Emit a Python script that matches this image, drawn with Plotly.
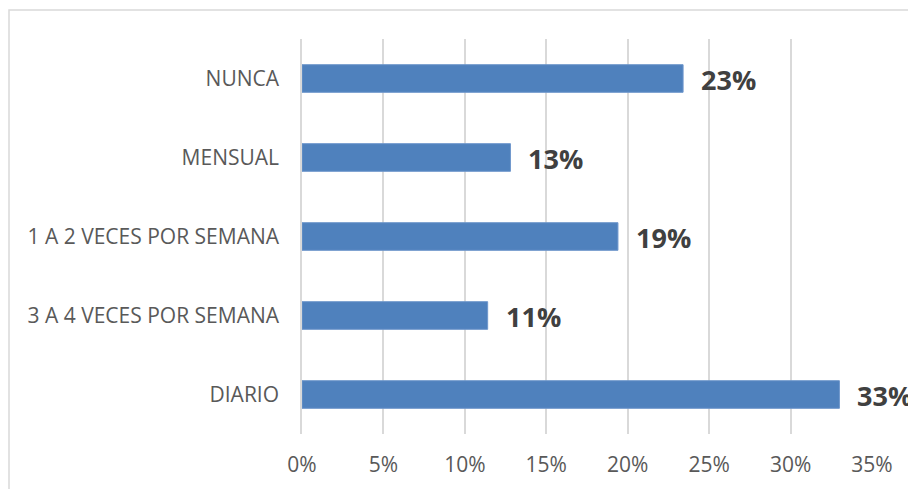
import plotly.graph_objects as go

# Frecuencia de consumo (proporciones)
categorias = ["DIARIO", "3 A 4 VECES POR SEMANA", "1 A 2 VECES POR SEMANA", "MENSUAL", "NUNCA"]
valores = [0.330, 0.114, 0.194, 0.128, 0.234]
ticks_x = [0, 0.05, 0.10, 0.15, 0.20, 0.25, 0.30, 0.35]
ticks_x_texto = ["0%", "5%", "10%", "15%", "20%", "25%", "30%", "35%"]

W, H = 908, 489
ML, MR, MT, MB = 302, 36, 39, 55
PW, PH = W - ML - MR, H - MT - MB
FUENTE = "Open Sans"

fig = go.Figure(
    go.Bar(
        x=valores,
        y=categorias,
        orientation="h",
        width=0.35,
        marker=dict(color="#4f81bd", line=dict(color="#6f97cc", width=1)),
        hoverinfo="skip",
    )
)

# Etiquetas de valor en negrita a la derecha de cada barra
for cat, v in zip(categorias, valores):
    fig.add_annotation(
        x=v, y=cat, xref="x", yref="y",
        text=f"<b>{v:.0%}</b>",
        showarrow=False, xanchor="left", yanchor="middle",
        xshift=16, yshift=-1,
        font=dict(family=FUENTE, size=27, color="#404040"),
    )

# Marco del gráfico
fig.add_shape(
    type="rect", xref="paper", yref="paper",
    x0=(9 - ML) / PW, x1=(W + 5 - ML) / PW,
    y0=-(H + 5 - MT - PH) / PH, y1=1 + (MT - 10) / PH,
    line=dict(color="#d9d9d9", width=1.5), fillcolor="rgba(0,0,0,0)",
    layer="below",
)

fig.update_layout(
    width=W, height=H,
    margin=dict(l=ML, r=MR, t=MT, b=MB),
    paper_bgcolor="white", plot_bgcolor="white",
    showlegend=False,
    font=dict(family=FUENTE, color="#595959"),
    xaxis=dict(
        range=[0, 0.35], tickvals=ticks_x, ticktext=ticks_x_texto,
        showgrid=True, gridcolor="#d9d9d9", gridwidth=1.5,
        zeroline=False, showline=False, ticks="",
        tickfont=dict(size=21, color="#595959"),
        ticklabelstandoff=16,
    ),
    yaxis=dict(
        range=[-0.5, 4.5], categoryorder="array", categoryarray=categorias,
        showgrid=False, zeroline=False, showline=True,
        linecolor="#d9d9d9", linewidth=1.5, ticks="",
        tickfont=dict(size=21, color="#595959"),
        ticklabelstandoff=17,
    ),
)

fig.write_html("out.html")
